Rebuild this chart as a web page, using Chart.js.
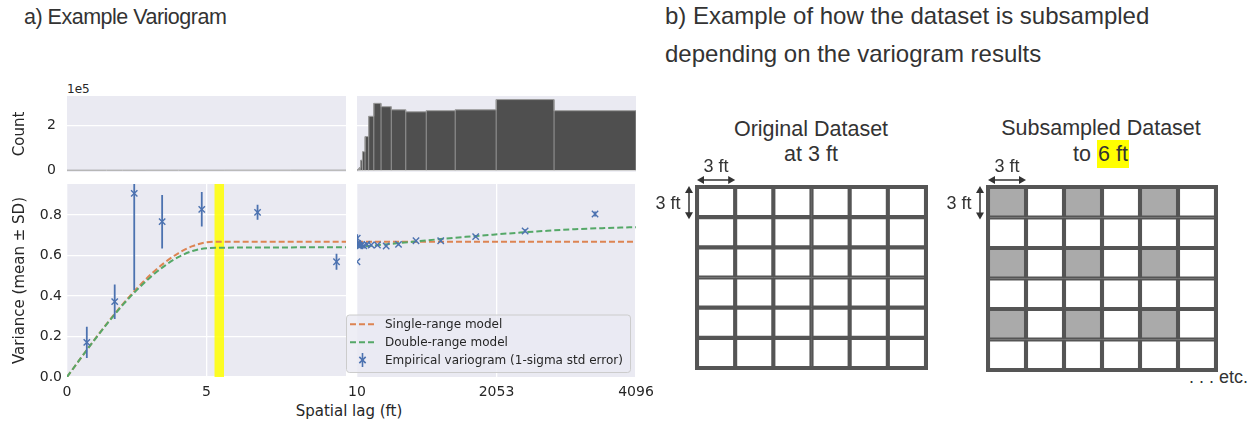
<!DOCTYPE html>
<html>
<head>
<meta charset="utf-8">
<script src="https://cdn.jsdelivr.net/npm/chart.js@4.4.1/dist/chart.umd.min.js"></script>
<style>
  html, body { margin: 0; padding: 0; background: #fff; }
  #fig { position: relative; width: 1256px; height: 423px; overflow: hidden; background: #fff;
         font-family: "Liberation Sans", Arial, sans-serif; color: #333; }
  #fig canvas { position: absolute; }
  .t { position: absolute; white-space: nowrap; }
  .mpl { font-family: "DejaVu Sans", sans-serif; color: #262626; }
  .hl { background: #ffff00; padding: 2px 1px; }
</style>
</head>
<body>
<div id="fig">
  <div class="t" style="left:24px;top:7px;font-size:21.5px;line-height:21px;letter-spacing:-0.5px;">a) Example Variogram</div>
  <div class="t" style="left:665px;top:-3px;font-size:24px;line-height:38px;">b) Example of how the dataset is subsampled<br>depending on the variogram results</div>

  <div class="t mpl" style="left:67px;top:82px;font-size:12px;line-height:14px;">1e5</div>
  <div class="t mpl" style="left:349px;top:402px;font-size:15px;line-height:18px;transform:translateX(-50%);">Spatial lag (ft)</div>

  <div class="t" style="left:661px;top:116.5px;width:300px;text-align:center;font-size:21.5px;line-height:25.5px;">Original Dataset<br>at 3 ft</div>
  <div class="t" style="left:951px;top:116px;width:300px;text-align:center;font-size:21.5px;line-height:25.5px;">Subsampled Dataset<br>to <span class="hl">6 ft</span></div>
  <div class="t" style="left:1160px;top:368px;width:88px;text-align:right;font-size:18px;line-height:18px;">. . . etc.</div>

  <canvas id="histL" width="352" height="96" style="left:0;top:80px;"></canvas>
  <canvas id="histR" width="320" height="96" style="left:340px;top:80px;"></canvas>
  <canvas id="varL" width="352" height="247" style="left:0;top:176px;"></canvas>
  <canvas id="varR" width="320" height="247" style="left:340px;top:176px;"></canvas>
  <canvas id="gridOrig" width="300" height="240" style="left:640px;top:140px;"></canvas>
  <canvas id="gridSub" width="310" height="245" style="left:930px;top:140px;"></canvas>
</div>

<script>
// ---------------- data ----------------

// Empirical variogram: lag-bin centres (ft), mean semivariance and 1-sigma std error
const lagCentres   = [0.71, 1.71, 2.41, 3.41, 4.83, 6.83, 9.66, 13.7, 19.3, 27.3, 38.6, 54.6,
                      77.3, 109, 155, 218, 309, 437, 618, 874, 1236, 1748, 2472, 3496];
const semivariance = [0.171, 0.372, 0.907, 0.767, 0.828, 0.813, 0.569, 0.685, 0.660, 0.655, 0.650, 0.648,
                      0.652, 0.648, 0.655, 0.652, 0.652, 0.647, 0.655, 0.673, 0.673, 0.693, 0.721, 0.805];
const stdError     = [0.077, 0.085, 0.477, 0.132, 0.085, 0.037, 0.040, 0.020, 0.014, 0.010, 0.008, 0.006,
                      0.005, 0.004, 0.004, 0.004, 0.004, 0.004, 0.004, 0.004, 0.005, 0.006, 0.008, 0.012];

// Fitted models, short lags (0-10 ft)
const modelLagShort    = [0, 0.5, 1, 1.5, 2, 2.5, 3, 3.5, 4, 4.5, 5, 5.5, 6, 8, 10];
const singleRangeShort = [0, 0.094, 0.187, 0.276, 0.360, 0.437, 0.506, 0.565, 0.612, 0.646, 0.665, 0.668, 0.668, 0.668, 0.668];
const doubleRangeShort = [0, 0.094, 0.186, 0.274, 0.356, 0.429, 0.494, 0.549, 0.593, 0.622, 0.636, 0.638, 0.639, 0.640, 0.641];

// Fitted models, long lags (10-4096 ft)
const modelLagLong    = [10, 400, 800, 1200, 1600, 2000, 2400, 2800, 3200, 3600, 4000, 4096];
const singleRangeLong = [0.668, 0.668, 0.668, 0.668, 0.668, 0.668, 0.668, 0.668, 0.668, 0.668, 0.668, 0.668];
const doubleRangeLong = [0.641, 0.654, 0.667, 0.680, 0.692, 0.703, 0.713, 0.722, 0.730, 0.735, 0.739, 0.740];

// Number of point pairs per lag bin (bin edges in ft)
const pairBinEdges = [0, 1.41, 2, 2.83, 4, 5.66, 8, 11.3, 16, 22.6, 32, 45.3, 64, 90.5, 128, 181,
                      256, 362, 512, 724, 1024, 1448, 2048, 2896, 4096];
const pairCounts   = [40, 30, 45, 70, 100, 150, 210, 1000, 2000, 4000, 7000, 12000, 45000, 83000,
                      151000, 242000, 300000, 285000, 271000, 262000, 267000, 271000, 317000, 267000];

// Highlighted lag band (ft)
const selectedLagBand = [5.28, 5.63];

// Tick values
const varianceTicks = [0, 0.2, 0.4, 0.6, 0.8];
const countTicks    = [0, 200000];
const shortLagTicks = [0, 5];
const longLagTicks  = [10, 2053, 4096];

// Sampling grid
const gridColumns  = ['1', '2', '3', '4', '5', '6'];
const gridRows     = [0, 1, 2, 3, 4, 5];
const keptRows     = [0, 2, 4];
const keptColumns  = [0, 2, 4];

// ---------------- styling ----------------
const MPL_FONT = "'DejaVu Sans', sans-serif";
const INK = '#262626';
const AX_BG = '#eaeaf2';
const BLUE = '#4c72b0', ORANGE = '#dd8452', GREEN = '#55a868';

Chart.defaults.font.family = MPL_FONT;
Chart.defaults.color = INK;

const axesBackground = {
  id: 'axesBackground',
  beforeDraw(chart) {
    const {ctx, chartArea: a} = chart;
    ctx.save();
    ctx.fillStyle = AX_BG;
    ctx.fillRect(a.left, a.top, a.right - a.left, a.bottom - a.top);
    ctx.restore();
  }
};

const setTicks = vals => axis => { axis.ticks = vals.map(v => ({value: v})); };
// fixed axis thickness; tick labels never push the plot area inwards
const fixWidth = w => s => { s.width = w; s.paddingTop = 0; s.paddingBottom = 0; };
const fixHeight = h => s => { s.height = h; s.paddingLeft = 0; s.paddingRight = 0; };

// ---------------- dataset builders ----------------
function histogramOutline() {
  const pts = [{x: pairBinEdges[0], y: 0}];
  pairCounts.forEach((c, i) => pts.push({x: pairBinEdges[i + 1], y: c}));
  pts.push({x: pairBinEdges[pairBinEdges.length - 1], y: 0});
  return pts;
}
function histogramEdges() {
  const pts = [];
  for (let i = 1; i < pairCounts.length; i++) {
    const e = pairBinEdges[i];
    pts.push({x: e, y: 0}, {x: e, y: Math.max(pairCounts[i - 1], pairCounts[i])}, {x: e, y: null});
  }
  return pts;
}
function histogramDatasets() {
  return [
    { data: histogramEdges(), borderColor: '#9a9a9a', borderWidth: 1, pointRadius: 0, spanGaps: false, clip: 0 },
    { data: histogramOutline(), stepped: 'after', fill: 'origin', backgroundColor: '#4f4f4f',
      borderColor: '#9a9a9a', borderWidth: 1, pointRadius: 0, clip: 0 }
  ];
}
function empiricalPoints() {
  return lagCentres.map((x, i) => ({x, y: semivariance[i]}));
}
function errorSegments() {
  const pts = [];
  lagCentres.forEach((x, i) => {
    pts.push({x, y: semivariance[i] - stdError[i]}, {x, y: semivariance[i] + stdError[i]}, {x, y: null});
  });
  return pts;
}
const zip = (xs, ys) => xs.map((x, i) => ({x, y: ys[i]}));

function variogramDatasets(lags, single, dbl, withBand) {
  const ds = [
    { label: 'Empirical variogram (1-sigma std error)', inLegend: true, legendKind: 'marker', legendOrder: 2,
      data: empiricalPoints(), showLine: false, pointStyle: 'crossRot', pointRadius: 4.5,
      pointBorderWidth: 1.4, pointBorderColor: BLUE, pointBackgroundColor: BLUE, borderColor: BLUE, clip: 0 },
    { data: errorSegments(), borderColor: BLUE, borderWidth: 1.8, pointRadius: 0, spanGaps: false, clip: 0 },
    { label: 'Double-range model', inLegend: true, legendKind: 'line', legendOrder: 1,
      data: zip(lags, dbl), borderColor: GREEN, borderWidth: 2, borderDash: [6, 3],
      pointRadius: 0, cubicInterpolationMode: 'monotone', clip: 0 },
    { label: 'Single-range model', inLegend: true, legendKind: 'line', legendOrder: 0,
      data: zip(lags, single), borderColor: ORANGE, borderWidth: 2, borderDash: [6, 3],
      pointRadius: 0, cubicInterpolationMode: 'monotone', clip: 0 }
  ];
  if (withBand) {
    ds.push({ data: [{x: selectedLagBand[0], y: 2}, {x: selectedLagBand[1], y: 2}],
              fill: 'origin', backgroundColor: 'rgba(255,255,0,0.85)', borderWidth: 0, pointRadius: 0, clip: 0 });
  }
  return ds;
}

const baseOptions = {
  responsive: false,
  animation: false,
  events: [],
  plugins: { legend: { display: false }, tooltip: { enabled: false } }
};
const gridWhite = { color: '#ffffff', lineWidth: 1.3, drawTicks: false };

// ---------------- panel a: histogram of pairs ----------------
new Chart(document.getElementById('histL'), {
  type: 'line',
  data: { datasets: histogramDatasets() },
  plugins: [axesBackground],
  options: Object.assign({}, baseOptions, {
    layout: { padding: { top: 16, right: 6, bottom: 4, left: 0 } },
    scales: {
      x: { type: 'linear', min: 0, max: 10, display: false },
      y: { min: -8000, max: 333000, afterBuildTicks: setTicks(countTicks),
           afterFit: fixWidth(67),
           grid: gridWhite, border: { display: false },
           ticks: { padding: 11, font: { size: 14 }, color: INK, callback: v => String(v / 1e5) },
           title: { display: true, text: 'Count', font: { size: 15 }, color: INK, padding: { top: 11, bottom: 0 } } }
    }
  })
});

new Chart(document.getElementById('histR'), {
  type: 'line',
  data: { datasets: histogramDatasets() },
  plugins: [axesBackground],
  options: Object.assign({}, baseOptions, {
    layout: { padding: { top: 16, right: 24, bottom: 4, left: 17 } },
    scales: {
      x: { type: 'linear', min: 10, max: 4096, display: false },
      y: { min: -8000, max: 333000, afterBuildTicks: setTicks(countTicks),
           afterFit: fixWidth(0),
           grid: gridWhite, border: { display: false }, ticks: { display: false } }
    }
  })
});

// ---------------- panel a: variogram ----------------
new Chart(document.getElementById('varL'), {
  type: 'line',
  data: { datasets: variogramDatasets(modelLagShort, singleRangeShort, doubleRangeShort, true) },
  plugins: [axesBackground],
  options: Object.assign({}, baseOptions, {
    layout: { padding: { top: 8, right: 6, bottom: 0, left: 0 } },
    scales: {
      x: { type: 'linear', min: 0, max: 10, afterBuildTicks: setTicks(shortLagTicks),
           afterFit: fixHeight(46),
           grid: gridWhite, border: { display: false },
           ticks: { padding: 7, font: { size: 14 }, color: INK, maxRotation: 0 } },
      y: { min: 0, max: 0.953, afterBuildTicks: setTicks(varianceTicks),
           afterFit: fixWidth(67),
           grid: gridWhite, border: { display: false },
           ticks: { padding: 5, font: { size: 14 }, color: INK, callback: v => v.toFixed(1) },
           title: { display: true, text: 'Variance (mean ± SD)', font: { size: 15 }, color: INK,
                    padding: { top: 11, bottom: 0 } } }
    }
  })
});

// Legend drawn on top of the long-lag axes, styled from the datasets themselves
const frameLegend = {
  id: 'frameLegend',
  afterDraw(chart) {
    const {ctx, chartArea: a} = chart;
    const items = chart.data.datasets.filter(d => d.inLegend)
      .sort((p, q) => p.legendOrder - q.legendOrder);
    const x0 = a.left - 10.5, x1 = a.right - 5.5, y0 = a.bottom - 62, y1 = a.bottom - 4.5;
    ctx.save();
    ctx.beginPath();
    ctx.roundRect(x0, y0, x1 - x0, y1 - y0, 3);
    ctx.fillStyle = 'rgba(234,234,242,0.8)';
    ctx.fill();
    ctx.lineWidth = 1;
    ctx.strokeStyle = '#cccccc';
    ctx.stroke();
    const rowY = [a.bottom - 52.7, a.bottom - 34.7, a.bottom - 17];
    ctx.font = '12px ' + MPL_FONT;
    ctx.textBaseline = 'middle';
    items.forEach((d, i) => {
      const y = rowY[i];
      if (d.legendKind === 'line') {
        ctx.beginPath();
        ctx.setLineDash(d.borderDash);
        ctx.lineWidth = d.borderWidth;
        ctx.strokeStyle = d.borderColor;
        ctx.moveTo(a.left - 7, y);
        ctx.lineTo(a.left + 18, y);
        ctx.stroke();
        ctx.setLineDash([]);
      } else {
        const mx = a.left + 5.5;
        ctx.strokeStyle = d.pointBorderColor;
        ctx.lineWidth = 1.6;
        ctx.beginPath();
        ctx.moveTo(mx, y - 7);
        ctx.lineTo(mx, y + 7);
        ctx.stroke();
        Chart.helpers.drawPoint(ctx, { pointStyle: d.pointStyle, radius: d.pointRadius, rotation: 0,
                                       borderWidth: d.pointBorderWidth }, mx, y);
      }
      ctx.fillStyle = INK;
      ctx.fillText(d.label, a.left + 28, y + 0.5);
    });
    ctx.restore();
  }
};

new Chart(document.getElementById('varR'), {
  type: 'line',
  data: { datasets: variogramDatasets(modelLagLong, singleRangeLong, doubleRangeLong, false) },
  plugins: [axesBackground, frameLegend],
  options: Object.assign({}, baseOptions, {
    layout: { padding: { top: 8, right: 24, bottom: 0, left: 17 } },
    scales: {
      x: { type: 'linear', min: 10, max: 4096, afterBuildTicks: setTicks(longLagTicks),
           afterFit: fixHeight(46),
           grid: gridWhite, border: { display: false },
           ticks: { padding: 7, font: { size: 14 }, color: INK, maxRotation: 0, callback: v => String(v) } },
      y: { min: 0, max: 0.953, display: false }
    }
  })
});

// ---------------- panel b: sampling grids ----------------
const GRID_INK = '#555555';

const gridFrame = {
  id: 'gridFrame',
  afterDatasetsDraw(chart) {
    const {ctx, chartArea: a, scales} = chart;
    ctx.save();
    ctx.strokeStyle = GRID_INK;
    ctx.lineWidth = 4;
    ctx.strokeRect(a.left, a.top, a.right - a.left, a.bottom - a.top);

    // one-cell spacing arrows with labels
    const colW = scales.x.getPixelForTick(1) - scales.x.getPixelForTick(0);
    const rowH = scales.y.getPixelForValue(1) - scales.y.getPixelForValue(0);
    ctx.strokeStyle = '#333';
    ctx.fillStyle = '#333';
    ctx.lineWidth = 1.5;
    const head = (x, y, dx, dy) => {
      ctx.beginPath();
      ctx.moveTo(x, y);
      ctx.lineTo(x - dx * 7 - dy * 4, y - dy * 7 - dx * 4);
      ctx.lineTo(x - dx * 7 + dy * 4, y - dy * 7 + dx * 4);
      ctx.closePath();
      ctx.fill();
    };
    // horizontal
    const hy = a.top - 7, hx0 = a.left, hx1 = a.left + colW;
    ctx.beginPath(); ctx.moveTo(hx0 + 5, hy); ctx.lineTo(hx1 - 5, hy); ctx.stroke();
    head(hx0, hy, -1, 0); head(hx1, hy, 1, 0);
    // vertical
    const vx = a.left - 8, vy0 = a.top - 1, vy1 = a.top + rowH + 2;
    ctx.beginPath(); ctx.moveTo(vx, vy0 + 5); ctx.lineTo(vx, vy1 - 5); ctx.stroke();
    head(vx, vy0, 0, -1); head(vx, vy1, 0, 1);

    ctx.font = '18px "Liberation Sans", Arial, sans-serif';
    ctx.textBaseline = 'alphabetic';
    ctx.textAlign = 'center';
    ctx.fillText('3 ft', (hx0 + hx1) / 2, a.top - 15.5);
    ctx.textAlign = 'right';
    ctx.fillText('3 ft', vx - 8.5, (vy0 + vy1) / 2 + 6.5);
    ctx.restore();
  }
};

function gridChart(id, padding, subsampled) {
  const datasets = gridRows.map(r => ({
    data: gridColumns.map(() => [r, r + 1]),
    backgroundColor: gridColumns.map((c, ci) =>
      subsampled && keptRows.includes(r) && keptColumns.includes(ci) ? '#aaaaaa' : '#ffffff'),
    borderColor: GRID_INK,
    borderWidth: 2.4,
    borderSkipped: false,
    grouped: false,
    categoryPercentage: 1,
    barPercentage: 1
  }));
  return new Chart(document.getElementById(id), {
    type: 'bar',
    data: { labels: gridColumns, datasets },
    plugins: [gridFrame],
    options: Object.assign({}, baseOptions, {
      layout: { padding },
      scales: {
        x: { display: false },
        y: { type: 'linear', min: 0, max: 6, reverse: true, display: false }
      }
    })
  });
}

gridChart('gridOrig', { left: 57, right: 14, top: 47, bottom: 12 }, false);
gridChart('gridSub',  { left: 58, right: 24, top: 47, bottom: 15 }, true);
</script>
</body>
</html>
